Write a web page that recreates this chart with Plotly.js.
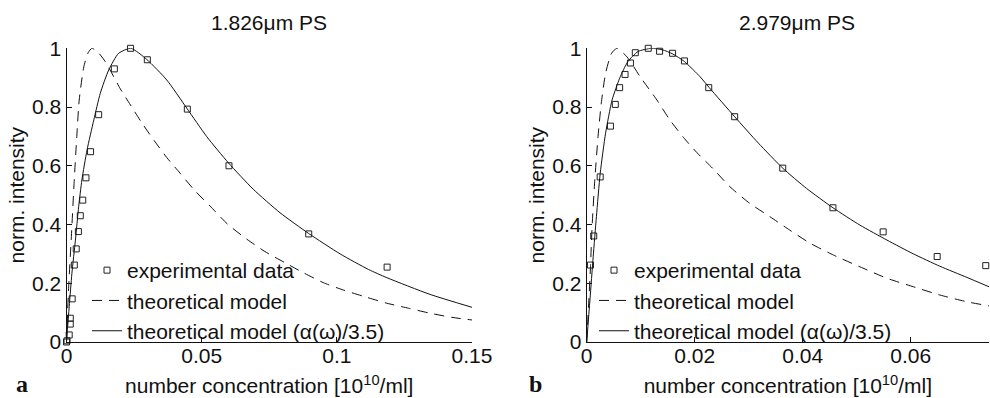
<!DOCTYPE html>
<html>
<head>
<meta charset="utf-8">
<script src="https://cdn.plot.ly/plotly-3.0.1.min.js"></script>
<style>html,body{margin:0;padding:0;background:#fff;}#chart{width:990px;height:398px;}</style>
</head>
<body>
<div id="chart"></div>
<script>
// ---- Panel a: 1.826 um PS ----
const expXa = [0, 0.0002, 0.0010, 0.0014, 0.0014, 0.0021, 0.0029, 0.0036, 0.0044, 0.0051, 0.0060, 0.0072, 0.0089, 0.0119, 0.0177, 0.0237, 0.0299, 0.0447, 0.0601, 0.0896, 0.1186];
const expYa = [0, 0.004, 0.024, 0.061, 0.081, 0.147, 0.262, 0.317, 0.376, 0.430, 0.483, 0.559, 0.648, 0.774, 0.930, 1.0, 0.961, 0.793, 0.600, 0.368, 0.255];

const modXa = [0, 0.0003, 0.0008, 0.0018, 0.0028, 0.0038, 0.0047, 0.0064, 0.0080, 0.0094, 0.0115, 0.0144, 0.0199, 0.0229, 0.0278, 0.0325, 0.0371, 0.0420, 0.0475, 0.0531, 0.0595, 0.0667, 0.0734, 0.0808, 0.0876, 0.0950, 0.1024, 0.1104, 0.1185, 0.1265, 0.1345, 0.1425, 0.15];
const modYa = [0, 0.08, 0.188, 0.359, 0.54, 0.699, 0.824, 0.937, 0.985, 1.0, 0.988, 0.954, 0.862, 0.818, 0.747, 0.685, 0.628, 0.575, 0.515, 0.463, 0.402, 0.350, 0.308, 0.270, 0.236, 0.202, 0.177, 0.154, 0.132, 0.115, 0.098, 0.084, 0.075];

const fitXa = [0, 0.0010, 0.0020, 0.0033, 0.0045, 0.0057, 0.0076, 0.0101, 0.0125, 0.0156, 0.0193, 0.0238, 0.0297, 0.0371, 0.0445, 0.0519, 0.0599, 0.0691, 0.0790, 0.0895, 0.1012, 0.1117, 0.1185, 0.1345, 0.15];
const fitYa = [0, 0.120, 0.234, 0.347, 0.461, 0.552, 0.654, 0.756, 0.847, 0.926, 0.983, 1.0, 0.962, 0.892, 0.796, 0.699, 0.610, 0.520, 0.440, 0.370, 0.300, 0.247, 0.219, 0.162, 0.118];

// ---- Panel b: 2.979 um PS ----
const expXb = [0.0007, 0.0013, 0.0025, 0.0044, 0.0053, 0.0061, 0.0071, 0.0081, 0.0090, 0.0114, 0.0135, 0.0159, 0.0181, 0.0226, 0.0274, 0.0363, 0.0456, 0.0549, 0.0649, 0.0739];
const expYb = [0.262, 0.361, 0.562, 0.735, 0.809, 0.866, 0.911, 0.950, 0.985, 1.0, 0.990, 0.983, 0.957, 0.866, 0.767, 0.592, 0.457, 0.375, 0.291, 0.260];

const modXb = [0, 0.0004, 0.0007, 0.0010, 0.0015, 0.0021, 0.0027, 0.0035, 0.0046, 0.0056, 0.0075, 0.0099, 0.0130, 0.0154, 0.0179, 0.0204, 0.0234, 0.0265, 0.0302, 0.0339, 0.0376, 0.0414, 0.0457, 0.0506, 0.0556, 0.0605, 0.0654, 0.0704, 0.0745];
const modYb = [0, 0.143, 0.256, 0.393, 0.552, 0.699, 0.813, 0.915, 0.983, 1.0, 0.970, 0.903, 0.824, 0.756, 0.697, 0.645, 0.590, 0.529, 0.472, 0.427, 0.381, 0.336, 0.296, 0.256, 0.217, 0.188, 0.160, 0.137, 0.123];

const fitXb = [0, 0.0006, 0.0012, 0.0018, 0.0025, 0.0035, 0.0047, 0.0061, 0.0076, 0.0095, 0.0120, 0.0140, 0.0159, 0.0181, 0.0210, 0.0227, 0.0274, 0.0318, 0.0363, 0.0407, 0.0456, 0.0506, 0.0556, 0.0605, 0.0654, 0.0704, 0.0745];
const fitYb = [0, 0.143, 0.290, 0.427, 0.574, 0.711, 0.824, 0.898, 0.954, 0.989, 1.0, 0.995, 0.981, 0.955, 0.903, 0.866, 0.767, 0.677, 0.592, 0.523, 0.457, 0.398, 0.347, 0.300, 0.258, 0.220, 0.188];

const xTicksA = [0, 0.05, 0.1, 0.15];
const xTicksB = [0, 0.02, 0.04, 0.06];
const yTicks = [0, 0.2, 0.4, 0.6, 0.8, 1];

const names = ['experimental data', 'theoretical model', 'theoretical model (α(ω)/3.5)'];
const titles = ['1.826μm PS', '2.979μm PS'];
const panelLetters = ['a', 'b'];

const FONT = 'Liberation Sans, Arial, Helvetica, sans-serif';
const INK = '#111';
const W = 990, H = 398;
const px = v => v / W;
const py = v => 1 - v / H;

function traces(ex, ey, mx, my, fx, fy, xa, ya, leg) {
  return [
    {x: ex, y: ey, xaxis: xa, yaxis: ya, legend: leg, name: names[0], type: 'scatter', mode: 'markers',
     marker: {symbol: 'square-open', size: 6, color: '#222', line: {width: 1, color: '#222'}}, cliponaxis: false},
    {x: mx, y: my, xaxis: xa, yaxis: ya, legend: leg, name: names[1], type: 'scatter', mode: 'lines',
     line: {color: INK, width: 1, dash: '10px,7px', shape: 'spline', smoothing: 0.6}},
    {x: fx, y: fy, xaxis: xa, yaxis: ya, legend: leg, name: names[2], type: 'scatter', mode: 'lines',
     line: {color: INK, width: 1, shape: 'spline', smoothing: 0.6}}
  ];
}

const data = [].concat(
  traces(expXa, expYa, modXa, modYa, fitXa, fitYa, 'x', 'y', 'legend'),
  traces(expXb, expYb, modXb, modYb, fitXb, fitYb, 'x2', 'y2', 'legend2')
);

const yDom = [1 - 342 / H, 1 - 48.3 / H];
function xax(dom, range, ticks, anchor) {
  return {domain: dom, range: range, anchor: anchor, tickvals: ticks, ticks: 'inside', ticklen: 5, tickcolor: INK,
    showline: true, linecolor: INK, linewidth: 1, showgrid: false, zeroline: false, fixedrange: true,
    ticklabelstandoff: -5,
    tickfont: {family: FONT, size: 21, color: INK},
    title: {text: 'number concentration [10<sup>10</sup>/ml]', font: {family: FONT, size: 21, color: INK}, standoff: 12}};
}
function yax(anchor) {
  return {domain: yDom, range: [0, 1], anchor: anchor, tickvals: yTicks, ticks: 'inside', ticklen: 5, tickcolor: INK,
    showline: true, linecolor: INK, linewidth: 1, showgrid: false, zeroline: false, fixedrange: true,
    tickfont: {family: FONT, size: 21, color: INK},
    title: {text: 'norm. intensity', font: {family: FONT, size: 21, color: INK}, standoff: 1}};
}
function leg(xpx) {
  return {x: px(xpx), xanchor: 'left', y: py(250), yanchor: 'top', bgcolor: 'rgba(0,0,0,0)', borderwidth: 0,
    font: {family: FONT, size: 21, color: INK}, traceorder: 'normal', itemclick: false, itemdoubleclick: false};
}

const layout = {
  width: W, height: H, margin: {l: 0, r: 0, t: 0, b: 0},
  paper_bgcolor: '#fff', plot_bgcolor: 'rgba(0,0,0,0)',
  showlegend: true,
  xaxis: xax([66.5 / W, 472 / W], [0, 0.15], xTicksA, 'y'),
  yaxis: yax('x'),
  xaxis2: xax([586.7 / W, 989 / W], [0, 0.0745], xTicksB, 'y2'),
  yaxis2: yax('x2'),
  legend: leg(87),
  legend2: leg(594),
  annotations: [
    {text: titles[0], x: px(269), y: py(23), xref: 'paper', yref: 'paper', showarrow: false, xanchor: 'center', yanchor: 'middle',
     font: {family: FONT, size: 21, color: INK}},
    {text: titles[1], x: px(797), y: py(23), xref: 'paper', yref: 'paper', showarrow: false, xanchor: 'center', yanchor: 'middle',
     font: {family: FONT, size: 21, color: INK}},
    {text: '<b>' + panelLetters[0] + '</b>', x: px(22), y: py(384), xref: 'paper', yref: 'paper', showarrow: false, xanchor: 'center', yanchor: 'middle',
     font: {family: 'Liberation Serif, Times New Roman, serif', size: 24, color: INK}},
    {text: '<b>' + panelLetters[1] + '</b>', x: px(535), y: py(384), xref: 'paper', yref: 'paper', showarrow: false, xanchor: 'center', yanchor: 'middle',
     font: {family: 'Liberation Serif, Times New Roman, serif', size: 24, color: INK}}
  ]
};

Plotly.newPlot('chart', data, layout, {displayModeBar: false, staticPlot: true});
</script>
</body>
</html>
